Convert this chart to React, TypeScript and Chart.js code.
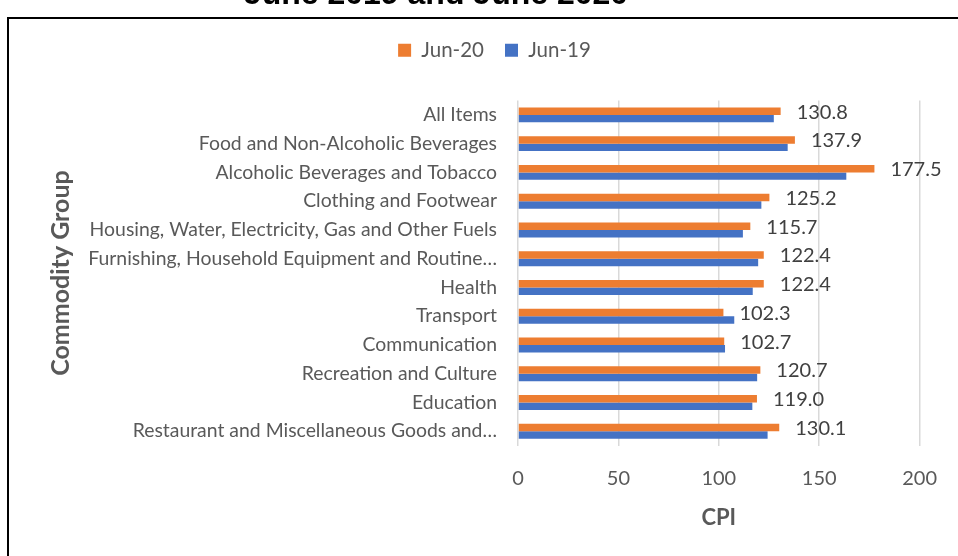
import React, { useEffect, useRef } from "react";
import { Chart, registerables } from "chart.js";

Chart.register(...registerables);

const categories = [
  "All Items",
  "Food and Non-Alcoholic Beverages",
  "Alcoholic Beverages and Tobacco",
  "Clothing and Footwear",
  "Housing, Water, Electricity, Gas and Other Fuels",
  "Furnishing, Household Equipment and Routine…",
  "Health",
  "Transport",
  "Communication",
  "Recreation and Culture",
  "Education",
  "Restaurant and Miscellaneous Goods and…",
];
const jun20 = [130.8, 137.9, 177.5, 125.2, 115.7, 122.4, 122.4, 102.3, 102.7, 120.7, 119.0, 130.1];
const jun19 = [127.4, 134.3, 163.5, 121.2, 112.0, 119.6, 116.9, 107.7, 103.1, 119.1, 116.7, 124.3];
const seriesLabels = ["Jun-20", "Jun-19"];
const seriesColors = ["#ED7D31", "#4472C4"];
const xMin = 0;
const xMax = 200;
const xStep = 50;
const chartTitle = "June 2019 and June 2020";
const xTitle = "CPI";
const yTitle = "Commodity Group";

const FONT = "Lato";

const framePlugin = {
  id: "frame",
  beforeDraw(chart: any) {
    const ctx = chart.ctx;
    ctx.save();
    ctx.fillStyle = "#ffffff";
    ctx.fillRect(0, 0, chart.width, chart.height);
    ctx.strokeStyle = "#000000";
    ctx.lineWidth = 2;
    ctx.strokeRect(8, 48, 1200, 1200);
    ctx.fillStyle = "#000000";
    ctx.font = `bold 32px "Liberation Sans", Arial, sans-serif`;
    ctx.textAlign = "center";
    ctx.textBaseline = "alphabetic";
    ctx.fillText(chartTitle, 436, 34);
    ctx.restore();
  },
};

const labelPlugin = {
  id: "valueLabels",
  afterDatasetsDraw(chart: any) {
    const ctx = chart.ctx;
    const meta = chart.getDatasetMeta(0);
    ctx.save();
    ctx.fillStyle = "#404040";
    ctx.font = `20px ${FONT}`;
    ctx.textAlign = "left";
    ctx.textBaseline = "middle";
    meta.data.forEach((el: any, i: number) => {
      ctx.fillText(jun20[i].toFixed(1), el.x + 16, el.y + 1);
    });
    ctx.restore();
  },
};

export default function App() {
  const ref = useRef<HTMLCanvasElement>(null);
  useEffect(() => {
    document.documentElement.style.overflow = "hidden";
    document.body.style.overflow = "hidden";
    const chart = new Chart(ref.current!, {
      type: "bar",
      data: {
        labels: categories,
        datasets: [
          {
            label: seriesLabels[0],
            data: jun20,
            backgroundColor: seriesColors[0],
            categoryPercentage: 0.52,
            barPercentage: 1,
          },
          {
            label: seriesLabels[1],
            data: jun19,
            backgroundColor: seriesColors[1],
            categoryPercentage: 0.52,
            barPercentage: 1,
          },
        ],
      },
      options: {
        indexAxis: "y",
        responsive: false,
        animation: false,
        layout: { padding: { left: 65, right: 34, top: 49, bottom: 0 } },
        plugins: {
          legend: {
            position: "top",
            labels: {
              boxWidth: 13,
              boxHeight: 13,
              padding: 21,
              color: "#595959",
              font: { family: FONT, size: 20.5 },
            },
          },
          title: { display: false },
          tooltip: { enabled: false },
        },
        scales: {
          x: {
            type: "linear",
            position: "bottom",
            min: xMin,
            max: xMax,
            ticks: {
              stepSize: xStep,
              color: "#595959",
              padding: 21,
              font: { family: FONT, size: 20 },
            },
            grid: { color: "#D9D9D9", lineWidth: 1.5, drawTicks: false },
            border: { display: false },
            title: {
              display: true,
              text: xTitle,
              color: "#595959",
              font: { family: FONT, size: 22, weight: "bold" },
              padding: { top: 0, bottom: 25 },
            },
            afterFit: (s: any) => {
              s.height = 110.4;
            },
          },
          xTop: {
            type: "linear",
            axis: "x",
            position: "top",
            display: true,
            grid: { display: false, drawTicks: false },
            border: { display: false },
            ticks: { display: false },
            afterFit: (s: any) => {
              s.height = 30;
            },
          },
          y: {
            type: "category",
            position: "left",
            ticks: {
              color: "#595959",
              padding: 21,
              autoSkip: false,
              font: { family: FONT, size: 19.4 },
            },
            grid: { display: false, drawTicks: false },
            border: { display: false },
            title: {
              display: true,
              text: yTitle,
              color: "#595959",
              font: { family: FONT, size: 25, weight: "bold" },
              padding: { top: -19, bottom: 0 },
            },
            afterFit: (s: any) => {
              s.width = 453;
            },
          },
        },
      } as any,
      plugins: [framePlugin, labelPlugin],
    });
    return () => chart.destroy();
  }, []);
  return (
    <div style={{ position: "absolute", left: 0, top: -30, width: 958, height: 586 }}>
      <canvas ref={ref} width={958} height={586} style={{ display: "block", width: 958, height: 586 }} />
    </div>
  );
}
